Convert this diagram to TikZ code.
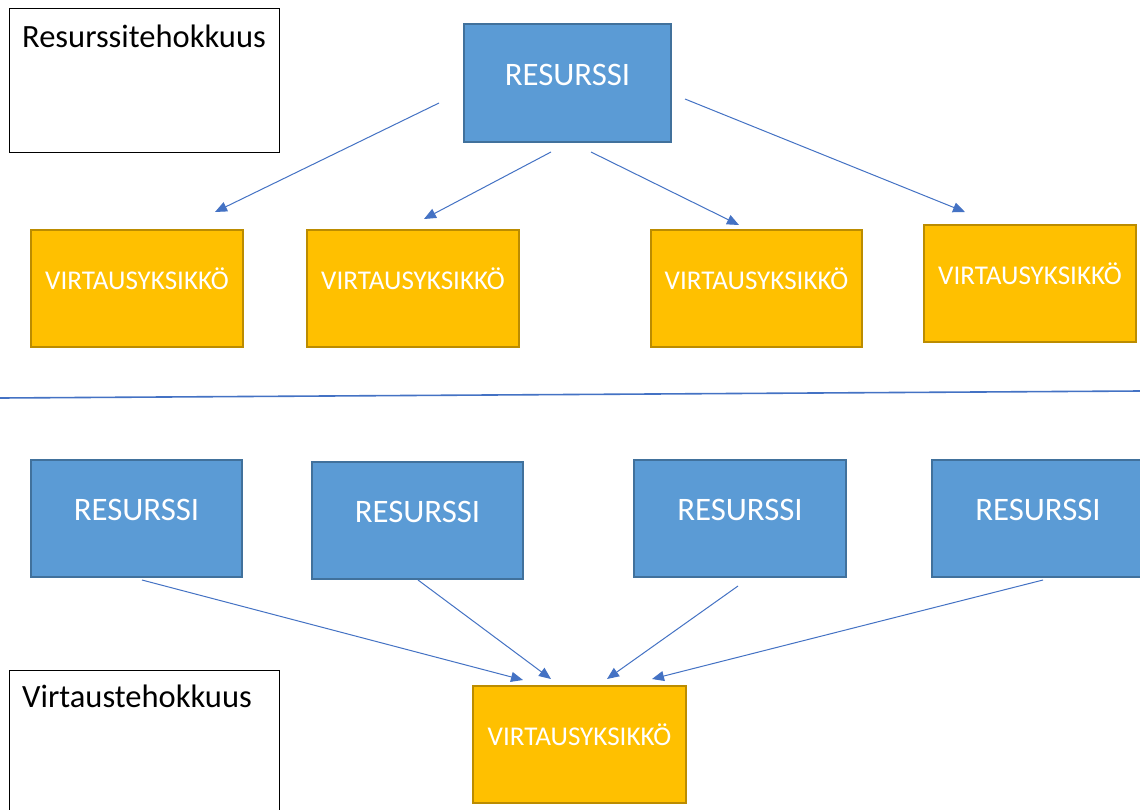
\documentclass[tikz,border=0pt]{standalone}
\usepackage{fontspec}
\setmainfont{Carlito}
\usetikzlibrary{arrows.meta}
\definecolor{resblue}{HTML}{5B9BD5}
\definecolor{resedge}{HTML}{41719C}
\definecolor{virtfill}{HTML}{FFC000}
\definecolor{virtedge}{HTML}{BC8C00}
\definecolor{arrowblue}{HTML}{4472C4}
\tikzset{
  resbox/.style={draw=resedge, line width=1.3pt, fill=resblue, text=white, minimum width=212pt, minimum height=117pt, inner sep=0pt,
    font=\fontsize{32.8}{39}\selectfont, text height=0.65em, text depth=0.2em},
  virtbox/.style={draw=virtedge, line width=1.3pt, fill=virtfill, text=white, minimum width=212pt, minimum height=117pt, inner sep=0pt,
    font=\fontsize{27.1}{32}\selectfont, text height=0.65em, text depth=0.38em},
  titlebox/.style={draw=black, line width=1pt, fill=white, inner sep=0pt},
  titletext/.style={anchor=base west, inner sep=0pt, font=\fontsize{32.5}{38}\selectfont},
  flow/.style={draw=arrowblue, line width=1pt, -{Triangle[length=12pt,width=10pt]}},
  divider/.style={draw=arrowblue, line width=1.6pt}
}
\begin{document}
\begin{tikzpicture}[x=1pt,y=-1pt]
\useasboundingbox (0,0) rectangle (1140,809);
\fill[white] (0,0) rectangle (1140,809);
% title boxes
\node[titlebox, minimum width=270pt, minimum height=144pt, anchor=north west] (tb1) at (9,8) {};
\node[titletext] (tt1) at (22,47) {Resurssitehokkuus};
\node[titlebox, minimum width=270pt, minimum height=150pt, anchor=north west] (tb2) at (9,670) {};
\node[titletext] (tt2) at (22,707) {Virtaustehokkuus};
% top part
\node[resbox, minimum width=207pt, minimum height=118pt] (r0) at (567.5,83) {RESURSSI};
\node[virtbox] (v1) at (137,288.5) {VIRTAUSYKSIKKÖ};
\node[virtbox] (v2) at (413,288.5) {VIRTAUSYKSIKKÖ};
\node[virtbox, minimum width=211pt] (v3) at (756.5,288.5) {VIRTAUSYKSIKKÖ};
\node[virtbox] (v4) at (1030,283.5) {VIRTAUSYKSIKKÖ};
\coordinate (s1) at (439,103); \coordinate (e1) at (215,212);
\coordinate (s2) at (551,152); \coordinate (e2) at (424,219);
\coordinate (s3) at (591,152); \coordinate (e3) at (739,225);
\coordinate (s4) at (685,99);  \coordinate (e4) at (965,212);
\draw[flow] (s1) -- (e1);
\draw[flow] (s2) -- (e2);
\draw[flow] (s3) -- (e3);
\draw[flow] (s4) -- (e4);
% divider
\coordinate (dl) at (0,398); \coordinate (dr) at (1140,391);
\draw[divider] (dl) -- (dr);
% bottom part
\node[resbox, minimum width=211pt] (r1) at (136.5,518.5) {RESURSSI};
\node[resbox, minimum width=211pt] (r2) at (417.5,520.5) {RESURSSI};
\node[resbox] (r3) at (740,518.5) {RESURSSI};
\node[resbox] (r4) at (1038,518.5) {RESURSSI};
\node[virtbox, minimum width=213pt] (v0) at (579.5,744.5) {VIRTAUSYKSIKKÖ};
\coordinate (b1) at (142,580); \coordinate (f1) at (523,680);
\coordinate (b2) at (418,580); \coordinate (f2) at (551,679);
\coordinate (b3) at (738,586); \coordinate (f3) at (607,679);
\coordinate (b4) at (1043,580); \coordinate (f4) at (652,679);
\draw[flow] (b1) -- (f1);
\draw[flow] (b2) -- (f2);
\draw[flow] (b3) -- (f3);
\draw[flow] (b4) -- (f4);
\end{tikzpicture}
\end{document}
